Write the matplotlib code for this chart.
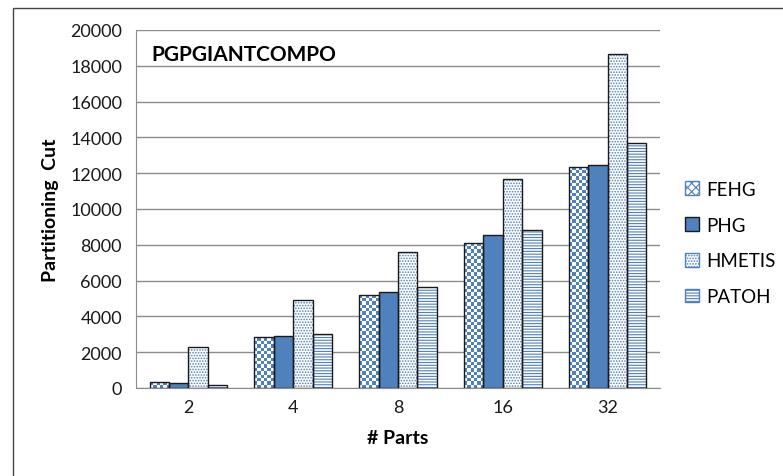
import numpy as np
import matplotlib.pyplot as plt
from matplotlib.patches import Patch, Rectangle

# data
parts = ['2', '4', '8', '16', '32']
series = ['FEHG', 'PHG', 'HMETIS', 'PATOH']
fehg = [320, 2850, 5200, 8100, 12320]
phg = [260, 2900, 5350, 8520, 12460]
hmetis = [2290, 4900, 7600, 11700, 18640]
patoh = [190, 3000, 5650, 8830, 13700]
values = [fehg, phg, hmetis, patoh]

blue = '#4F81BD'
font = ['Lato', 'DejaVu Sans']
plt.rcParams['font.family'] = font
plt.rcParams['hatch.linewidth'] = 0.8

fig = plt.figure(figsize=(7.83, 4.77), dpi=100)
ax = fig.add_axes([136 / 783, 1 - 389 / 477, 524 / 783, 358 / 477])

ax.set_xlim(-0.5, 4.5)
ax.set_ylim(0, 20000)
ax.set_yticks(range(0, 20001, 2000))
ax.grid(axis='y', color='#8c8c8c', linewidth=1)
ax.set_axisbelow(True)

x = np.arange(len(parts))
w = 0.185
hatches = [None, None, '......', '------']
checker_cmap = plt.matplotlib.colors.ListedColormap(['white', blue])

for i, (name, vals) in enumerate(zip(series, values)):
    pos = x + (i - 1.5) * w
    if name == 'PHG':
        ax.bar(pos, vals, w, color=blue, edgecolor='none', zorder=2)
    elif name == 'FEHG':
        bars = ax.bar(pos, vals, w, color='white', edgecolor='none', zorder=2)
        # checkerboard fill, clipped to each bar
        for b in bars:
            bx, bw, bh = b.get_x(), b.get_width(), b.get_height()
            p0 = ax.transData.transform((bx, 0))
            p1 = ax.transData.transform((bx + bw, bh))
            nx = max(1, int(round((p1[0] - p0[0]) / 3.3)))
            ny = max(1, int(np.ceil((p1[1] - p0[1]) / 3.3)))
            checker = (np.indices((ny, nx)).sum(axis=0) % 2).astype(float)
            cell_h = 3.3 * 20000 / 358
            im = ax.imshow(checker, extent=(bx, bx + bw, 0, ny * cell_h),
                           cmap=checker_cmap, interpolation='nearest',
                           aspect='auto', origin='lower', zorder=2.1)
            im.set_clip_path(b)
    else:
        ax.bar(pos, vals, w, color='white', edgecolor=blue, linewidth=0,
               hatch=hatches[i], zorder=2)
    # black outline
    ax.bar(pos, vals, w, fill=False, edgecolor='#1a1a1a', linewidth=1.0, zorder=3)

ax.set_xlim(-0.5, 4.5)
ax.set_ylim(0, 20000)
ax.set_xticks(x)
ax.set_xticklabels(parts)
ax.tick_params(length=0, labelsize=13, pad=8, labelcolor='#1a1a1a')
ax.tick_params(axis='y', pad=10)

for s in ['left', 'bottom']:
    ax.spines[s].set_color('#8c8c8c')
ax.spines['top'].set_visible(False)
ax.spines['right'].set_visible(False)

ax.set_xlabel('# Parts', fontsize=14, fontweight='bold', labelpad=10)
ax.set_ylabel('Partitioning  Cut', fontsize=14, fontweight='bold', labelpad=8)
ax.text(0.03, 0.96, 'PGPGIANTCOMPO', transform=ax.transAxes, fontsize=15,
        fontweight='bold', va='top', ha='left')

handles = [
    Patch(facecolor='white', edgecolor=blue, hatch='xxxx'),
    Patch(facecolor=blue, edgecolor='#1a1a1a'),
    Patch(facecolor='white', edgecolor=blue, hatch='......'),
    Patch(facecolor='white', edgecolor=blue, hatch='------'),
]
fig.legend(handles, series, loc='center left', bbox_to_anchor=(668 / 783, 1 - 244 / 477),
           frameon=False, fontsize=13.5, handlelength=0.75, handleheight=0.75,
           handletextpad=0.4, labelspacing=1.0)

# outer chart frame
fig.patches.append(Rectangle((12.5 / 783, -0.1), 1.2, 1.1 - 8.5 / 477,
                             transform=fig.transFigure, fill=False,
                             edgecolor='#444444', linewidth=1.0))

fig.savefig('out.png', dpi=100)
